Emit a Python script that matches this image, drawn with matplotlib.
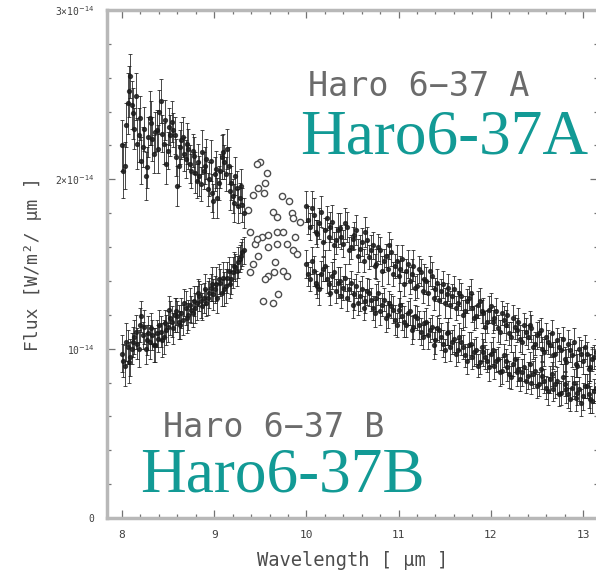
import numpy as np
import matplotlib
matplotlib.use("Agg")
import matplotlib.pyplot as plt
from matplotlib.ticker import MultipleLocator

# flux values are in units of 1e-14 W/m^2/um
# two interleaved scans per segment (short: 8-9.3 um, long: 10-13.1 um)

wave_short = [8.00, 8.03, 8.06, 8.09, 8.12, 8.15, 8.18, 8.21, 8.24, 8.27,
              8.30, 8.33, 8.36, 8.39, 8.42, 8.45, 8.48, 8.51, 8.54, 8.57,
              8.60, 8.63, 8.66, 8.69, 8.72, 8.75, 8.78, 8.81, 8.84, 8.87,
              8.90, 8.93, 8.96, 8.99, 9.02, 9.05, 9.08, 9.11, 9.14, 9.17,
              9.20, 9.23, 9.26, 9.29, 9.32]
flux_a_short = [2.20, 2.08, 2.45, 2.61, 2.39, 2.49, 2.26, 2.11, 2.30, 2.07,
                2.36, 2.24, 2.28, 2.18, 2.46, 2.21, 2.09, 2.31, 2.34, 2.26,
                1.96, 2.19, 2.25, 2.12, 2.18, 2.05, 2.14, 1.99, 2.02, 2.16,
                2.08, 1.94, 2.11, 1.87, 2.06, 1.98, 2.13, 2.10, 2.18, 1.93,
                1.90, 2.02, 1.84, 1.96, 1.80]
err_a_short = [0.15, 0.14, 0.18, 0.13, 0.15, 0.14, 0.16, 0.14, 0.13, 0.12,
               0.16, 0.13, 0.12, 0.14, 0.13, 0.12, 0.12, 0.11, 0.12, 0.11,
               0.12, 0.10, 0.12, 0.11, 0.12, 0.10, 0.11, 0.10, 0.12, 0.13,
               0.11, 0.10, 0.12, 0.10, 0.11, 0.10, 0.13, 0.10, 0.12, 0.11,
               0.10, 0.11, 0.10, 0.10, 0.09]
flux_b_short = [0.97, 0.90, 1.01, 0.95, 1.04, 1.10, 1.00, 1.19, 1.13, 1.05,
                1.04, 1.08, 1.02, 1.06, 1.10, 1.07, 1.11, 1.23, 1.16, 1.20,
                1.19, 1.14, 1.17, 1.24, 1.20, 1.23, 1.28, 1.27, 1.31, 1.25,
                1.35, 1.30, 1.36, 1.32, 1.38, 1.41, 1.33, 1.35, 1.42, 1.38,
                1.45, 1.48, 1.51, 1.55, 1.58]
err_b_short = [0.11, 0.12, 0.10, 0.11, 0.09, 0.10, 0.11, 0.09, 0.10, 0.09,
               0.10, 0.09, 0.10, 0.08, 0.09, 0.10, 0.09, 0.08, 0.09, 0.10,
               0.09, 0.08, 0.09, 0.10, 0.09, 0.08, 0.09, 0.10, 0.09, 0.08,
               0.09, 0.10, 0.08, 0.09, 0.10, 0.09, 0.08, 0.10, 0.09, 0.08,
               0.09, 0.08, 0.09, 0.08, 0.08]

wave_short2 = [8.015, 8.045, 8.075, 8.105, 8.135, 8.165, 8.195, 8.225, 8.255, 8.285,
               8.315, 8.345, 8.375, 8.405, 8.435, 8.465, 8.495, 8.525, 8.555, 8.585,
               8.615, 8.645, 8.675, 8.705, 8.735, 8.765, 8.795, 8.825, 8.855, 8.885,
               8.915, 8.945, 8.975, 9.005, 9.035, 9.065, 9.095, 9.125, 9.155, 9.185,
               9.215, 9.245, 9.275, 9.305]
flux_a_short2 = [2.05, 2.32, 2.52, 2.44, 2.30, 2.21, 2.36, 2.19, 2.02, 2.25,
                 2.33, 2.15, 2.29, 2.40, 2.27, 2.35, 2.17, 2.26, 2.29, 2.13,
                 2.08, 2.23, 2.15, 2.21, 2.09, 2.17, 2.04, 2.10, 1.97, 2.05,
                 2.12, 2.00, 1.92, 2.03, 1.89, 2.05, 2.16, 2.03, 2.08, 1.98,
                 1.86, 1.95, 1.89, 1.85]
err_a_short2 = [0.16, 0.13, 0.15, 0.14, 0.12, 0.15, 0.13, 0.12, 0.14, 0.12,
                0.13, 0.11, 0.12, 0.13, 0.11, 0.12, 0.11, 0.12, 0.10, 0.11,
                0.12, 0.11, 0.10, 0.12, 0.11, 0.10, 0.12, 0.11, 0.10, 0.11,
                0.12, 0.10, 0.11, 0.10, 0.12, 0.10, 0.11, 0.10, 0.11, 0.10,
                0.11, 0.10, 0.09, 0.10]
flux_b_short2 = [0.93, 1.04, 0.92, 1.00, 1.07, 1.03, 1.14, 1.08, 1.00, 1.09,
                 1.12, 1.02, 1.09, 1.14, 1.05, 1.15, 1.13, 1.18, 1.12, 1.22,
                 1.16, 1.21, 1.27, 1.18, 1.26, 1.21, 1.24, 1.33, 1.28, 1.30,
                 1.27, 1.33, 1.38, 1.35, 1.30, 1.39, 1.42, 1.37, 1.46, 1.41,
                 1.49, 1.46, 1.53, 1.57]
err_b_short2 = [0.10, 0.11, 0.12, 0.09, 0.10, 0.09, 0.10, 0.08, 0.09, 0.10,
                0.09, 0.10, 0.08, 0.09, 0.10, 0.08, 0.09, 0.10, 0.09, 0.08,
                0.10, 0.09, 0.08, 0.09, 0.10, 0.08, 0.09, 0.08, 0.10, 0.09,
                0.08, 0.09, 0.10, 0.08, 0.09, 0.08, 0.09, 0.10, 0.08, 0.09,
                0.08, 0.09, 0.08, 0.08]

wave_long = [10.00, 10.04, 10.08, 10.12, 10.16, 10.20, 10.24, 10.28, 10.32, 10.36,
             10.40, 10.44, 10.48, 10.52, 10.56, 10.60, 10.64, 10.68, 10.72, 10.76,
             10.80, 10.84, 10.88, 10.92, 10.96, 11.00, 11.04, 11.08, 11.12, 11.16,
             11.20, 11.24, 11.28, 11.32, 11.36, 11.40, 11.44, 11.48, 11.52, 11.56,
             11.60, 11.64, 11.68, 11.72, 11.76, 11.80, 11.84, 11.88, 11.92, 11.96,
             12.00, 12.04, 12.08, 12.12, 12.16, 12.20, 12.24, 12.28, 12.32, 12.36,
             12.40, 12.44, 12.48, 12.52, 12.56, 12.60, 12.64, 12.68, 12.72, 12.76,
             12.80, 12.84, 12.88, 12.92, 12.96, 13.00, 13.04, 13.08, 13.12]
flux_a_long = [1.84, 1.72, 1.79, 1.68, 1.81, 1.70, 1.66, 1.75, 1.64, 1.71,
               1.62, 1.72, 1.60, 1.67, 1.55, 1.63, 1.69, 1.54, 1.61, 1.50,
               1.58, 1.52, 1.47, 1.57, 1.49, 1.43, 1.53, 1.46, 1.40, 1.49,
               1.37, 1.45, 1.41, 1.33, 1.43, 1.35, 1.29, 1.38, 1.32, 1.26,
               1.35, 1.27, 1.31, 1.22, 1.30, 1.24, 1.19, 1.28, 1.21, 1.16,
               1.25, 1.18, 1.12, 1.21, 1.14, 1.09, 1.18, 1.11, 1.06, 1.14,
               1.07, 1.12, 1.03, 1.09, 1.00, 1.07, 1.02, 0.96, 1.05, 0.99,
               0.94, 1.03, 0.96, 0.91, 1.00, 0.93, 0.97, 0.89, 0.95]
err_a_long = [0.09, 0.08, 0.10, 0.08, 0.09, 0.07, 0.08, 0.10, 0.08, 0.09,
              0.08, 0.09, 0.07, 0.08, 0.10, 0.08, 0.09, 0.07, 0.08, 0.09,
              0.08, 0.07, 0.09, 0.08, 0.07, 0.09, 0.08, 0.07, 0.08, 0.09,
              0.07, 0.08, 0.09, 0.07, 0.08, 0.07, 0.09, 0.08, 0.07, 0.08,
              0.08, 0.07, 0.08, 0.09, 0.07, 0.08, 0.07, 0.08, 0.09, 0.07,
              0.08, 0.07, 0.08, 0.07, 0.09, 0.07, 0.08, 0.07, 0.08, 0.07,
              0.07, 0.08, 0.07, 0.08, 0.07, 0.08, 0.07, 0.08, 0.07, 0.08,
              0.07, 0.08, 0.07, 0.08, 0.07, 0.08, 0.07, 0.08, 0.07]
flux_b_long = [1.50, 1.41, 1.46, 1.37, 1.44, 1.49, 1.38, 1.43, 1.34, 1.40,
               1.36, 1.30, 1.39, 1.32, 1.27, 1.35, 1.28, 1.33, 1.24, 1.30,
               1.22, 1.29, 1.20, 1.25, 1.17, 1.23, 1.19, 1.14, 1.22, 1.13,
               1.18, 1.10, 1.15, 1.08, 1.13, 1.05, 1.11, 1.03, 1.09, 1.01,
               1.06, 0.99, 1.04, 0.96, 1.02, 0.95, 0.99, 0.92, 0.98, 0.93,
               0.97, 0.90, 0.94, 0.87, 0.93, 0.85, 0.91, 0.86, 0.82, 0.89,
               0.84, 0.80, 0.87, 0.79, 0.84, 0.77, 0.82, 0.76, 0.81, 0.74,
               0.79, 0.73, 0.77, 0.71, 0.76, 0.72, 0.78, 0.70, 0.75]
err_b_long = [0.08, 0.07, 0.09, 0.07, 0.08, 0.09, 0.07, 0.08, 0.07, 0.08,
              0.07, 0.08, 0.07, 0.09, 0.07, 0.08, 0.07, 0.08, 0.07, 0.08,
              0.08, 0.07, 0.08, 0.07, 0.09, 0.07, 0.08, 0.07, 0.08, 0.07,
              0.07, 0.08, 0.07, 0.08, 0.07, 0.08, 0.07, 0.08, 0.07, 0.08,
              0.08, 0.07, 0.08, 0.07, 0.08, 0.07, 0.08, 0.07, 0.08, 0.07,
              0.07, 0.08, 0.07, 0.08, 0.07, 0.08, 0.07, 0.08, 0.07, 0.08,
              0.08, 0.07, 0.08, 0.07, 0.08, 0.07, 0.08, 0.07, 0.08, 0.07,
              0.07, 0.08, 0.07, 0.08, 0.07, 0.08, 0.07, 0.08, 0.07]

wave_long2 = [10.02, 10.06, 10.10, 10.14, 10.18, 10.22, 10.26, 10.30, 10.34, 10.38,
              10.42, 10.46, 10.50, 10.54, 10.58, 10.62, 10.66, 10.70, 10.74, 10.78,
              10.82, 10.86, 10.90, 10.94, 10.98, 11.02, 11.06, 11.10, 11.14, 11.18,
              11.22, 11.26, 11.30, 11.34, 11.38, 11.42, 11.46, 11.50, 11.54, 11.58,
              11.62, 11.66, 11.70, 11.74, 11.78, 11.82, 11.86, 11.90, 11.94, 11.98,
              12.02, 12.06, 12.10, 12.14, 12.18, 12.22, 12.26, 12.30, 12.34, 12.38,
              12.42, 12.46, 12.50, 12.54, 12.58, 12.62, 12.66, 12.70, 12.74, 12.78,
              12.82, 12.86, 12.90, 12.94, 12.98, 13.02, 13.06, 13.10, 13.14]
flux_a_long2 = [1.76, 1.83, 1.69, 1.74, 1.63, 1.77, 1.72, 1.61, 1.70, 1.66,
                1.74, 1.58, 1.65, 1.70, 1.59, 1.52, 1.64, 1.58, 1.49, 1.60,
                1.46, 1.55, 1.61, 1.44, 1.52, 1.47, 1.38, 1.50, 1.44, 1.36,
                1.47, 1.34, 1.40, 1.46, 1.30, 1.39, 1.34, 1.27, 1.36, 1.31,
                1.24, 1.33, 1.20, 1.28, 1.33, 1.18, 1.26, 1.22, 1.13, 1.23,
                1.16, 1.22, 1.10, 1.17, 1.20, 1.07, 1.13, 1.16, 1.04, 1.10,
                1.14, 1.01, 1.08, 1.11, 0.98, 1.04, 1.09, 0.97, 1.01, 1.06,
                0.92, 0.99, 1.04, 0.90, 0.97, 1.01, 0.88, 0.94, 0.98]
err_a_long2 = [0.08, 0.10, 0.07, 0.09, 0.08, 0.07, 0.09, 0.08, 0.10, 0.07,
               0.09, 0.08, 0.07, 0.09, 0.08, 0.07, 0.08, 0.09, 0.07, 0.08,
               0.09, 0.07, 0.08, 0.07, 0.09, 0.08, 0.07, 0.08, 0.09, 0.07,
               0.08, 0.07, 0.08, 0.09, 0.07, 0.08, 0.07, 0.09, 0.08, 0.07,
               0.07, 0.08, 0.09, 0.07, 0.08, 0.07, 0.08, 0.07, 0.09, 0.08,
               0.07, 0.08, 0.07, 0.08, 0.07, 0.09, 0.07, 0.08, 0.07, 0.08,
               0.08, 0.07, 0.08, 0.07, 0.08, 0.07, 0.08, 0.07, 0.08, 0.07,
               0.08, 0.07, 0.08, 0.07, 0.08, 0.07, 0.08, 0.07, 0.08]
flux_b_long2 = [1.44, 1.52, 1.39, 1.35, 1.47, 1.41, 1.33, 1.45, 1.39, 1.31,
                1.42, 1.35, 1.26, 1.37, 1.31, 1.24, 1.34, 1.29, 1.21, 1.33,
                1.26, 1.18, 1.27, 1.23, 1.14, 1.26, 1.16, 1.21, 1.11, 1.19,
                1.14, 1.07, 1.16, 1.11, 1.02, 1.12, 1.07, 0.99, 1.10, 1.04,
                0.97, 1.07, 1.01, 0.93, 1.03, 0.98, 0.90, 1.01, 0.95, 0.89,
                0.99, 0.93, 0.86, 0.96, 0.89, 0.83, 0.94, 0.88, 0.86, 0.81,
                0.91, 0.85, 0.78, 0.88, 0.81, 0.75, 0.85, 0.79, 0.73, 0.83,
                0.76, 0.70, 0.80, 0.74, 0.68, 0.78, 0.73, 0.69, 0.77]
err_b_long2 = [0.07, 0.08, 0.07, 0.09, 0.07, 0.08, 0.07, 0.08, 0.09, 0.07,
               0.08, 0.07, 0.08, 0.07, 0.09, 0.07, 0.08, 0.07, 0.08, 0.07,
               0.07, 0.08, 0.07, 0.08, 0.07, 0.08, 0.09, 0.07, 0.08, 0.07,
               0.08, 0.07, 0.08, 0.07, 0.08, 0.07, 0.08, 0.07, 0.08, 0.07,
               0.07, 0.08, 0.07, 0.08, 0.07, 0.08, 0.07, 0.08, 0.07, 0.08,
               0.08, 0.07, 0.08, 0.07, 0.08, 0.07, 0.08, 0.07, 0.08, 0.07,
               0.07, 0.08, 0.07, 0.08, 0.07, 0.08, 0.07, 0.08, 0.07, 0.08,
               0.08, 0.07, 0.08, 0.07, 0.08, 0.07, 0.08, 0.07, 0.08]

# noisy points in the 9.5 um region, drawn without error bars
wave_circ_a = [9.37, 9.42, 9.47, 9.50, 9.54, 9.55, 9.57, 9.64, 9.68, 9.74,
               9.81, 9.84, 9.85, 9.93, 9.39, 9.52, 9.58, 9.68, 9.75, 9.88, 9.46]
flux_circ_a = [1.82, 1.91, 1.95, 2.10, 1.92, 1.98, 2.04, 1.81, 1.78, 1.90,
               1.87, 1.80, 1.77, 1.75, 1.69, 1.66, 1.67, 1.69, 1.69, 1.66, 2.09]
wave_circ_b = [9.44, 9.46, 9.58, 9.68, 9.79, 9.85, 9.90, 9.47, 9.42, 9.66,
               9.39, 9.58, 9.65, 9.75, 9.79, 9.55, 9.69, 9.53, 9.64]
flux_circ_b = [1.62, 1.65, 1.60, 1.62, 1.62, 1.58, 1.56, 1.55, 1.50, 1.51,
               1.45, 1.43, 1.45, 1.46, 1.43, 1.41, 1.32, 1.28, 1.27]

xtick_vals = [8, 9, 10, 11, 12, 13]
ytick_vals = [0, 1, 2, 3]
ytick_labels = ["0", "10$^{-14}$", "2×10$^{-14}$", "3×10$^{-14}$"]

W, H = 596, 572
fig = plt.figure(figsize=(W / 100, H / 100), dpi=100)
ax = fig.add_axes([107 / W, 1 - 518 / H, 491 / W, 508 / H])

spine_col = "0.72"
ink = "0.1"
mono = "DejaVu Sans Mono"

ebkw = dict(fmt="o", color=ink, ms=2.8, elinewidth=0.7, capsize=1.5,
            capthick=0.7, alpha=0.8)
series = [
    (wave_short, flux_a_short, err_a_short),
    (wave_short, flux_b_short, err_b_short),
    (wave_short2, flux_a_short2, err_a_short2),
    (wave_short2, flux_b_short2, err_b_short2),
    (wave_long, flux_a_long, err_a_long),
    (wave_long, flux_b_long, err_b_long),
    (wave_long2, flux_a_long2, err_a_long2),
    (wave_long2, flux_b_long2, err_b_long2),
]
for w, f, e in series:
    ax.errorbar(w, f, yerr=e, **ebkw)

ax.plot(wave_circ_a, flux_circ_a, "o", ms=4.5, mfc="white", mec="0.3", mew=1.0)
ax.plot(wave_circ_b, flux_circ_b, "o", ms=4.5, mfc="white", mec="0.3", mew=1.0)

ax.set_xlim(7.837, 13.163)
ax.set_ylim(0, 3)

ax.set_xticks(xtick_vals)
ax.set_xticklabels([str(v) for v in xtick_vals], family=mono, fontsize=8, color="0.25")
ax.set_yticks(ytick_vals)
ax.set_yticklabels(ytick_labels, family=mono, fontsize=7, color="0.25")
ax.xaxis.set_minor_locator(MultipleLocator(0.2))
ax.yaxis.set_minor_locator(MultipleLocator(0.2))
ax.tick_params(which="both", direction="in", top=True, right=True,
               color="0.45", width=0.9)
ax.tick_params(which="major", length=6)
ax.tick_params(which="minor", length=3)
ax.tick_params(axis="x", pad=9)
ax.tick_params(axis="y", pad=9)

for sp in ax.spines.values():
    sp.set_color(spine_col)
    sp.set_linewidth(2.5)

ax.set_xlabel("Wavelength [ µm ]", family=mono, fontsize=13.5, color="0.3",
              va="center")
ax.xaxis.set_label_coords(0.5, -(561 - 518) / 508)
ax.set_ylabel("Flux [W/m²/ µm ]", family=mono, fontsize=13, color="0.3",
              va="center")
ax.yaxis.set_label_coords(-(107 - 33) / 491, 0.5)

# annotations: original grey labels and teal overlays
fig.text(308 / W, 1 - 96 / H, "Haro 6−37 A", family=mono, fontsize=24,
         color="0.42", va="baseline", ha="left")
fig.text(163 / W, 1 - 437 / H, "Haro 6−37 B", family=mono, fontsize=24,
         color="0.42", va="baseline", ha="left")
teal = "#129a95"
fig.text(300 / W, 1 - 154 / H, "Haro6-37A", family="Liberation Serif",
         fontsize=45.5, color=teal, va="baseline", ha="left")
fig.text(140 / W, 1 - 492 / H, "Haro6-37B", family="Liberation Serif",
         fontsize=45.5, color=teal, va="baseline", ha="left")

fig.savefig("out.png", dpi=100)
